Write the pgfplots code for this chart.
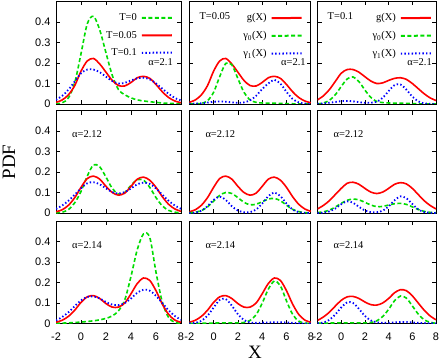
\documentclass[border=0pt]{standalone}
\usepackage{fontspec}
\setmainfont{Liberation Serif}
\setsansfont{Liberation Sans}
\usepackage{pgfplots}
\usepackage{pgfplotstable}
\pgfplotsset{compat=1.18}
\definecolor{gpgreen}{RGB}{0,220,0}

% columns: A = T=0, B = T=0.05 (g), C = T=0.1 (g),
% D,E = gamma0, gamma1 at T=0.05 ; F,G = gamma0, gamma1 at T=0.1
\pgfplotstableread{
x     A      B      C      D      E      F      G
-2    0.001  0.008  0.020  0.000  0.001  0.001  0.001
-1.5  0.006  0.020  0.040  0.001  0.002  0.005  0.003
-1    0.030  0.045  0.070  0.003  0.004  0.018  0.006
-0.5  0.104  0.090  0.110  0.016  0.007  0.045  0.010
0     0.245  0.160  0.150  0.057  0.011  0.085  0.014
0.5   0.391  0.210  0.168  0.133  0.012  0.122  0.015
1     0.428  0.222  0.168  0.198  0.011  0.132  0.013
1.5   0.361  0.195  0.155  0.191  0.008  0.109  0.009
2     0.249  0.155  0.133  0.124  0.006  0.068  0.006
2.5   0.140  0.115  0.112  0.057  0.008  0.032  0.006
3     0.070  0.090  0.100  0.020  0.018  0.012  0.011
3.5   0.045  0.088  0.103  0.008  0.040  0.007  0.030
4     0.030  0.105  0.115  0.005  0.073  0.005  0.063
4.5   0.020  0.128  0.125  0.004  0.100  0.004  0.092
5     0.015  0.135  0.128  0.004  0.118  0.004  0.095
5.5   0.011  0.125  0.120  0.003  0.099  0.003  0.070
6     0.008  0.095  0.100  0.002  0.059  0.002  0.036
6.5   0.005  0.060  0.075  0.001  0.025  0.001  0.013
7     0.003  0.032  0.050  0.000  0.008  0.000  0.003
7.5   0.002  0.015  0.030  0.000  0.002  0.000  0.001
8     0.001  0.006  0.017  0.000  0.000  0.000  0.000
}\rowa

\pgfplotstableread{
x     A      B      C      D      E      F      G
-2    0.001  0.006  0.020  0.001  0.000  0.002  0.000
-1.5  0.004  0.016  0.037  0.004  0.002  0.006  0.002
-1    0.017  0.038  0.060  0.012  0.011  0.014  0.008
-0.5  0.050  0.075  0.090  0.030  0.033  0.029  0.022
0     0.105  0.125  0.120  0.058  0.064  0.047  0.043
0.5   0.180  0.168  0.145  0.086  0.080  0.062  0.057
1     0.235  0.180  0.150  0.100  0.064  0.068  0.050
1.5   0.225  0.165  0.140  0.095  0.033  0.064  0.030
2     0.175  0.130  0.120  0.075  0.012  0.052  0.012
2.5   0.120  0.100  0.102  0.052  0.004  0.039  0.004
3     0.092  0.087  0.095  0.040  0.004  0.031  0.004
3.5   0.100  0.097  0.102  0.043  0.017  0.032  0.011
4     0.135  0.130  0.120  0.055  0.046  0.039  0.032
4.5   0.162  0.165  0.140  0.068  0.082  0.045  0.062
5     0.160  0.175  0.148  0.071  0.100  0.047  0.081
5.5   0.125  0.160  0.142  0.060  0.082  0.042  0.072
6     0.075  0.125  0.120  0.038  0.046  0.030  0.044
6.5   0.035  0.080  0.090  0.018  0.017  0.017  0.018
7     0.013  0.043  0.060  0.007  0.004  0.008  0.005
7.5   0.004  0.020  0.037  0.002  0.001  0.003  0.001
8     0.001  0.008  0.020  0.000  0.000  0.001  0.000
}\rowb

\pgfplotstableread{
x     A      B      C      D      E      F      G
-2    0.001  0.006  0.015  0.000  0.001  0.001  0.001
-1.5  0.002  0.016  0.032  0.001  0.003  0.002  0.005
-1    0.003  0.035  0.055  0.001  0.013  0.002  0.018
-0.5  0.005  0.065  0.085  0.002  0.038  0.003  0.044
0     0.007  0.103  0.113  0.002  0.078  0.003  0.078
0.5   0.010  0.130  0.130  0.003  0.115  0.003  0.103
1     0.013  0.136  0.132  0.003  0.119  0.003  0.100
1.5   0.018  0.122  0.122  0.003  0.087  0.003  0.071
2     0.025  0.097  0.105  0.003  0.045  0.003  0.037
2.5   0.037  0.080  0.092  0.005  0.017  0.005  0.015
3     0.062  0.080  0.090  0.015  0.005  0.013  0.006
3.5   0.115  0.100  0.100  0.043  0.003  0.034  0.003
4     0.230  0.145  0.122  0.099  0.004  0.069  0.004
4.5   0.360  0.195  0.150  0.167  0.005  0.111  0.005
5     0.437  0.222  0.165  0.207  0.006  0.134  0.007
5.5   0.420  0.210  0.160  0.184  0.006  0.124  0.007
6     0.250  0.160  0.135  0.110  0.005  0.086  0.005
6.5   0.105  0.095  0.100  0.045  0.003  0.046  0.003
7     0.030  0.045  0.065  0.012  0.001  0.018  0.002
7.5   0.006  0.017  0.037  0.002  0.000  0.006  0.001
8     0.001  0.006  0.018  0.000  0.000  0.001  0.000
}\rowc

\tikzset{
  lab/.style={font=\fontsize{10.5}{12}\selectfont, inner sep=0pt},
  gcurve/.style={draw=gpgreen, color=gpgreen, line width=1.6bp, dash pattern=on 4bp off 2.5bp, smooth, mark=none},
  rcurve/.style={draw=red, color=red, line width=1.6bp, smooth, mark=none},
  bcurve/.style={draw=blue, color=blue, line width=1.8bp, dash pattern=on 1.4bp off 2.2bp, smooth, mark=none},
}

\pgfplotsset{
  panel/.style={
    scale only axis, height=102.5bp,
    xmin=-2, xmax=8, ymin=0, ymax=0.5,
    xtick={-2,0,2,4,6,8}, ytick={0,0.1,0.2,0.3,0.4},
    xticklabels={}, yticklabels={},
    tick align=inside, tick pos=both,
    major tick length=4bp,
    axis line style={line width=0.8bp},
    every tick/.append style={line width=0.8bp, black},
    tick label style={font=\fontsize{11}{13}\sffamily},
    xticklabel shift=5.5bp, yticklabel shift=2bp,
    legend style={draw=none, fill=none, at={(1,1)}, anchor=north east,
      inner sep=0pt, row sep=5bp, column sep=2bp,
      font=\fontsize{10.5}{12}\selectfont},
    legend cell align=right,
    legend plot pos=right,
  },
  gleg/.style={legend image code/.code={\draw[draw=gpgreen, line width=2bp, dash pattern=on 4bp off 2.5bp] (0bp,0bp) -- (30bp,0.1bp);}},
  rleg/.style={legend image code/.code={\draw[draw=red, line width=2bp] (0bp,0bp) -- (30bp,0.1bp);}},
  bleg/.style={legend image code/.code={\draw[draw=blue, line width=2bp, dash pattern=on 1.4bp off 2.2bp] (0bp,0bp) -- (30bp,0.1bp);}},
}

\begin{document}
\begin{tikzpicture}[x=1bp, y=1bp]
\useasboundingbox (0,0) rectangle (443,361);

% row 1, alpha = 2.1
\begin{axis}[panel, width=125bp, at={(56bp,359.5bp)}, anchor=north west,
  yticklabels={0,0.1,0.2,0.3,0.4},
  legend style={xshift=-8bp, yshift=-10bp}]
\addplot[gcurve, forget plot] table[x=x,y=A]{\rowa};
\addplot[rcurve, forget plot] table[x=x,y=B]{\rowa};
\addplot[bcurve, forget plot] table[x=x,y=C]{\rowa};
\addlegendimage{gleg}\addlegendentry{T=0}
\addlegendimage{rleg}\addlegendentry{T=0.05}
\addlegendimage{bleg}\addlegendentry{T=0.1}
\node[lab, anchor=east] at ([xshift=-8bp,yshift=-61bp]rel axis cs:1,1) {α=2.1};
\end{axis}

\begin{axis}[panel, width=121.5bp, at={(189.3bp,359.5bp)}, anchor=north west,
  legend style={xshift=-8bp, yshift=-10bp}]
\addplot[rcurve, forget plot] table[x=x,y=B]{\rowa};
\addplot[gcurve, forget plot] table[x=x,y=D]{\rowa};
\addplot[bcurve, forget plot] table[x=x,y=E]{\rowa};
\addlegendimage{rleg}\addlegendentry{g(X)}
\addlegendimage{gleg}\addlegendentry{γ\textsubscript{0}(X)}
\addlegendimage{bleg}\addlegendentry{γ\textsubscript{1}(X)}
\node[lab, anchor=west] at ([xshift=10bp,yshift=-15bp]rel axis cs:0,1) {T=0.05};
\node[lab, anchor=east] at ([xshift=-5bp,yshift=-61bp]rel axis cs:1,1) {α=2.1};
\end{axis}

\begin{axis}[panel, width=118.5bp, at={(317.5bp,359.5bp)}, anchor=north west,
  legend style={xshift=-4bp, yshift=-10bp}]
\addplot[rcurve, forget plot] table[x=x,y=C]{\rowa};
\addplot[gcurve, forget plot] table[x=x,y=F]{\rowa};
\addplot[bcurve, forget plot] table[x=x,y=G]{\rowa};
\addlegendimage{rleg}\addlegendentry{g(X)}
\addlegendimage{gleg}\addlegendentry{γ\textsubscript{0}(X)}
\addlegendimage{bleg}\addlegendentry{γ\textsubscript{1}(X)}
\node[lab, anchor=west] at ([xshift=10bp,yshift=-15bp]rel axis cs:0,1) {T=0.1};
\node[lab, anchor=east] at ([xshift=-4bp,yshift=-61bp]rel axis cs:1,1) {α=2.1};
\end{axis}

% row 2, alpha = 2.12
\begin{axis}[panel, width=125bp, at={(56bp,250.5bp)}, anchor=north west,
  yticklabels={0,0.1,0.2,0.3,0.4}]
\addplot[gcurve] table[x=x,y=A]{\rowb};
\addplot[rcurve] table[x=x,y=B]{\rowb};
\addplot[bcurve] table[x=x,y=C]{\rowb};
\node[lab, anchor=west] at ([xshift=16bp,yshift=-24bp]rel axis cs:0,1) {α=2.12};
\end{axis}

\begin{axis}[panel, width=121.5bp, at={(189.3bp,250.5bp)}, anchor=north west]
\addplot[rcurve] table[x=x,y=B]{\rowb};
\addplot[gcurve] table[x=x,y=D]{\rowb};
\addplot[bcurve] table[x=x,y=E]{\rowb};
\node[lab, anchor=west] at ([xshift=16bp,yshift=-24bp]rel axis cs:0,1) {α=2.12};
\end{axis}

\begin{axis}[panel, width=118.5bp, at={(317.5bp,250.5bp)}, anchor=north west]
\addplot[rcurve] table[x=x,y=C]{\rowb};
\addplot[gcurve] table[x=x,y=F]{\rowb};
\addplot[bcurve] table[x=x,y=G]{\rowb};
\node[lab, anchor=west] at ([xshift=16bp,yshift=-24bp]rel axis cs:0,1) {α=2.12};
\end{axis}

% row 3, alpha = 2.14
\begin{axis}[panel, width=125bp, at={(56bp,140bp)}, anchor=north west,
  yticklabels={0,0.1,0.2,0.3,0.4}, xticklabels={-2,0,2,4,6,8}]
\addplot[gcurve] table[x=x,y=A]{\rowc};
\addplot[rcurve] table[x=x,y=B]{\rowc};
\addplot[bcurve] table[x=x,y=C]{\rowc};
\node[lab, anchor=west] at ([xshift=16bp,yshift=-24bp]rel axis cs:0,1) {α=2.14};
\end{axis}

\begin{axis}[panel, width=121.5bp, at={(189.3bp,140bp)}, anchor=north west,
  xticklabels={-2,0,2,4,6,8}]
\addplot[rcurve] table[x=x,y=B]{\rowc};
\addplot[gcurve] table[x=x,y=D]{\rowc};
\addplot[bcurve] table[x=x,y=E]{\rowc};
\node[lab, anchor=west] at ([xshift=16bp,yshift=-24bp]rel axis cs:0,1) {α=2.14};
\end{axis}

\begin{axis}[panel, width=118.5bp, at={(317.5bp,140bp)}, anchor=north west,
  xticklabels={-2,0,2,4,6,8}]
\addplot[rcurve] table[x=x,y=C]{\rowc};
\addplot[gcurve] table[x=x,y=F]{\rowc};
\addplot[bcurve] table[x=x,y=G]{\rowc};
\node[lab, anchor=west] at ([xshift=16bp,yshift=-24bp]rel axis cs:0,1) {α=2.14};
\end{axis}

\node[rotate=90, font=\fontsize{19}{21}\selectfont, inner sep=0pt] at (9,199) {PDF};
\node[font=\fontsize{19}{21}\selectfont, inner sep=0pt] at (255,9) {X};
\end{tikzpicture}
\end{document}
